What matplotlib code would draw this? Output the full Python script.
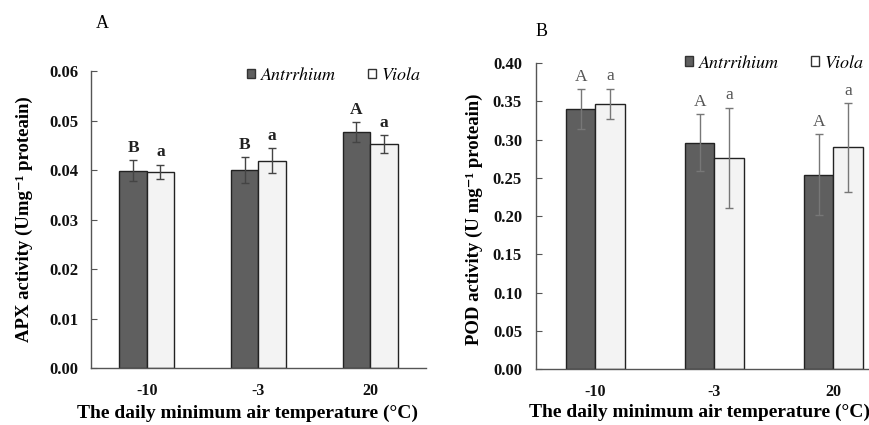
import numpy as np
import matplotlib.pyplot as plt
from matplotlib.patches import Patch

plt.rcParams['font.family'] = ['Liberation Serif', 'DejaVu Serif']

# Data
temps = ['-10', '-3', '20']

apx_ant = [0.0399, 0.0400, 0.0477]
apx_ant_err = [0.0021, 0.0026, 0.0020]
apx_vio = [0.0396, 0.0419, 0.0453]
apx_vio_err = [0.0015, 0.0025, 0.0018]
apx_ant_sig = ['B', 'B', 'A']
apx_vio_sig = ['a', 'a', 'a']

pod_ant = [0.340, 0.296, 0.254]
pod_ant_err = [0.026, 0.037, 0.053]
pod_vio = [0.347, 0.276, 0.290]
pod_vio_err = [0.020, 0.066, 0.058]
pod_ant_sig = ['A', 'A', 'A']
pod_vio_sig = ['a', 'a', 'a']

dark = '#5f5f5f'
light = '#f3f3f3'
w = 0.245

fig = plt.figure(figsize=(8.69, 4.25), dpi=100)
axA = fig.add_axes([0.1047, 0.1341, 0.3855, 0.6988])
axB = fig.add_axes([0.6168, 0.1318, 0.4108, 0.7193])


def panel(ax, ant, ant_err, vio, vio_err, ant_sig, vio_sig, ymax, step,
          ylabel, ant_name, bold_sig, ecol, leg_pos, ypad):
    x = np.arange(len(temps))
    ax.bar(x - w / 2, ant, w, color=dark, edgecolor='#222222', linewidth=1.0)
    ax.bar(x + w / 2, vio, w, color=light, edgecolor='#222222', linewidth=1.0)
    ax.errorbar(x - w / 2, ant, yerr=ant_err, fmt='none', ecolor=ecol,
                elinewidth=1.0, capsize=3, capthick=1.0)
    ax.errorbar(x + w / 2, vio, yerr=vio_err, fmt='none', ecolor=ecol,
                elinewidth=1.0, capsize=3, capthick=1.0)
    wt = 'bold' if bold_sig else 'normal'
    tc = '#222222' if bold_sig else '#555555'
    for i in range(len(temps)):
        ax.annotate(ant_sig[i], (x[i] - w / 2, ant[i] + ant_err[i]),
                    xytext=(0, 3), textcoords='offset points', ha='center',
                    va='bottom', fontsize=12.5, fontweight=wt, color=tc)
        ax.annotate(vio_sig[i], (x[i] + w / 2, vio[i] + vio_err[i]),
                    xytext=(0, 3), textcoords='offset points', ha='center',
                    va='bottom', fontsize=12.5, fontweight=wt, color=tc)
    ax.set_xlim(-0.5, 2.5)
    ax.set_ylim(0, ymax)
    ticks = np.arange(0, ymax + step / 2, step)
    ax.set_yticks(ticks)
    ax.set_yticklabels(['{:.2f}'.format(t) for t in ticks], fontweight='bold',
                       fontsize=12, color='#111111')
    ax.set_xticks(x)
    ax.set_xticklabels(temps, fontweight='bold', fontsize=11.5, color='#111111')
    ax.tick_params(axis='y', direction='in', length=4, color='#555555', pad=ypad)
    ax.tick_params(axis='x', length=0, pad=11)
    for s in ['top', 'right']:
        ax.spines[s].set_visible(False)
    for s in ['left', 'bottom']:
        ax.spines[s].set_color('#555555')
        ax.spines[s].set_linewidth(1.0)
    ax.set_ylabel(ylabel, fontweight='bold', fontsize=13.5)
    ax.set_xlabel('The daily minimum air temperature (°C)', fontweight='bold',
                  fontsize=14)
    handles = [Patch(facecolor=dark, edgecolor='#333333', label=ant_name),
               Patch(facecolor='white', edgecolor='#333333', label='Viola')]
    ax.legend(handles=handles, ncol=2, frameon=False, loc='center right',
              bbox_to_anchor=leg_pos, handlelength=0.45, handleheight=0.45,
              handletextpad=0.3, columnspacing=1.8,
              prop={'family': 'STIXGeneral', 'style': 'italic', 'size': 13})


panel(axA, apx_ant, apx_ant_err, apx_vio, apx_vio_err, apx_ant_sig, apx_vio_sig,
      0.06, 0.01, 'APX activity (Umg⁻¹ proteain)', 'Antrrhium',
      True, '#444444', (1.033, 0.985), 9)
panel(axB, pod_ant, pod_ant_err, pod_vio, pod_vio_err, pod_ant_sig, pod_vio_sig,
      0.40, 0.05, 'POD activity (U mg⁻¹ proteain)', 'Antrrihium',
      False, '#777777', (0.964, 1.0), 10)

axA.yaxis.set_label_coords(-0.173, 0.5)
axB.yaxis.set_label_coords(-0.148, 0.49)
axA.xaxis.set_label_coords(0.468, -0.122)
axB.xaxis.set_label_coords(0.457, -0.112)

fig.text(102 / 869, 1 - 24 / 425, 'A', fontsize=13, ha='center', va='center')
fig.text(542 / 869, 1 - 32 / 425, 'B', fontsize=13, ha='center', va='center')

fig.savefig('out.png', dpi=100)
